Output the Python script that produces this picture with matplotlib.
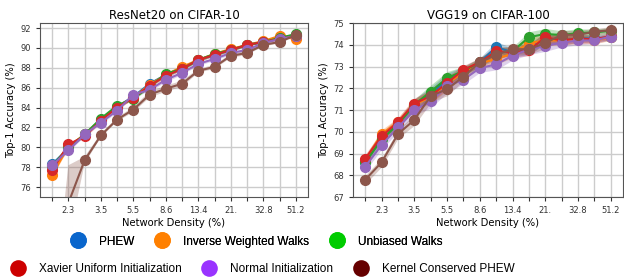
import matplotlib
matplotlib.use("Agg")
import matplotlib.pyplot as plt
from matplotlib.lines import Line2D
import numpy as np

# --- data ------------------------------------------------------------------
density_labels = ["", "2.3", "", "3.5", "", "5.5", "", "8.6", "", "13.4",
                  "", "21.", "", "32.8", "", "51.2"]

series_names = ["PHEW", "Inverse Weighted Walks", "Unbiased Walks",
                "Xavier Uniform Initialization", "Normal Initialization",
                "Kernel Conserved PHEW"]

# ResNet20 on CIFAR-10
resnet_phew = [78.3, 79.9, 81.3, 82.8, 84.1, 85.1, 86.4, 87.3, 87.9, 88.8, 89.3, 89.8, 90.3, 90.6, 91.0, 91.3]
resnet_inverse = [77.2, 80.1, 81.3, 82.8, 84.1, 85.0, 86.3, 87.3, 88.1, 88.8, 89.4, 89.9, 90.3, 90.7, 91.2, 90.9]
resnet_unbiased = [78.1, 80.0, 81.3, 82.9, 84.2, 84.9, 86.1, 87.4, 87.9, 88.8, 89.4, 89.8, 90.3, 90.6, 91.0, 91.4]
resnet_xavier = [77.7, 80.3, 81.1, 82.7, 84.0, 85.0, 86.2, 87.2, 87.9, 88.8, 89.3, 89.8, 90.3, 90.6, 90.9, 91.2]
resnet_normal = [78.2, 79.7, 81.3, 82.5, 83.7, 85.3, 85.8, 86.8, 87.5, 88.4, 88.9, 89.5, 89.8, 90.5, 90.9, 91.2]
resnet_kernel = [58.0, 74.4, 78.7, 81.2, 82.8, 83.8, 85.3, 85.9, 86.4, 87.7, 88.1, 89.2, 89.5, 90.3, 90.6, 91.3]
resnet_std = [0.2, 0.15, 0.15, 0.15, 0.15, 0.15, 0.15, 0.2, 0.15, 0.15, 0.15, 0.15, 0.1, 0.1, 0.1, 0.1]
resnet_kernel_std = [5.0, 3.8, 0.35, 0.2, 0.2, 0.25, 0.3, 0.3, 0.3, 0.2, 0.2, 0.2, 0.2, 0.15, 0.15, 0.15]

# VGG19 on CIFAR-100
vgg_phew = [68.6, 69.7, 70.35, 71.25, 71.75, 72.4, 72.8, 73.2, 73.9, 73.65, 73.8, 74.3, 74.2, 74.3, 74.3, 74.35]
vgg_inverse = [68.7, 69.9, 70.45, 71.25, 71.6, 72.2, 72.75, 73.15, 73.35, 73.6, 74.08, 74.2, 74.2, 74.25, 74.2, 74.35]
vgg_unbiased = [68.6, 69.65, 70.35, 71.25, 71.85, 72.47, 72.8, 73.2, 73.65, 73.7, 74.35, 74.5, 74.45, 74.54, 74.57, 74.65]
vgg_xavier = [68.77, 69.8, 70.45, 71.3, 71.65, 72.25, 72.85, 73.2, 73.7, 73.65, 73.74, 74.35, 74.2, 74.3, 74.25, 74.4]
vgg_normal = [68.4, 69.4, 70.2, 71.0, 71.4, 72.1, 72.4, 72.93, 73.1, 73.5, 73.8, 73.95, 74.1, 74.2, 74.2, 74.38]
vgg_kernel = [67.8, 68.6, 69.9, 70.55, 71.65, 71.96, 72.54, 73.2, 73.54, 73.8, 73.8, 74.08, 74.46, 74.46, 74.6, 74.68]
vgg_std = [0.2, 0.2, 0.2, 0.25, 0.3, 0.3, 0.2, 0.2, 0.25, 0.2, 0.25, 0.25, 0.2, 0.2, 0.15, 0.15]

# --- style -----------------------------------------------------------------
LINE_COLORS = ["#1f77b4", "#ff7f0e", "#2ca02c", "#d62728", "#9467bd", "#8c564b"]
LEGEND_COLORS = ["#0a66cc", "#ff8000", "#00cc00", "#cc0000", "#9933ff", "#660000"]
GRID = "#cccccc"
SPINE = "#555555"

plt.rcParams["font.family"] = ["DejaVu Sans"]


def draw_panel(ax, means, stds, title, yticks, ylim):
    x = np.arange(len(density_labels))
    for m, s, c in zip(means, stds, LINE_COLORS):
        m = np.array(m)
        s = np.array(s)
        ax.fill_between(x, m - s, m + s, color=c, alpha=0.3, linewidth=0)
        ax.plot(x, m, color=c, linewidth=1.5, marker="o", markersize=7)
    ax.set_xticks(x, density_labels)
    ax.set_xlim(-0.75, len(x) - 0.25)
    ax.set_yticks(yticks)
    ax.set_ylim(*ylim)
    ax.grid(True, color=GRID, linewidth=1)
    ax.set_axisbelow(True)
    ax.tick_params(labelsize=6, length=3, colors="#333333")
    for sp in ax.spines.values():
        sp.set_color(SPINE)
    ax.set_title(title, fontsize=8.5, pad=3)
    ax.set_xlabel("Network Density (%)", fontsize=7.2, labelpad=2)
    ax.set_ylabel("Top-1 Accuracy (%)", fontsize=7.2, labelpad=3)


fig = plt.figure(figsize=(6.24, 2.78), dpi=100)
ax1 = fig.add_axes([0.064, 0.291, 0.4295, 0.626])
ax2 = fig.add_axes([0.5657, 0.291, 0.4327, 0.626])

draw_panel(ax1,
           [resnet_phew, resnet_inverse, resnet_unbiased, resnet_xavier, resnet_normal, resnet_kernel],
           [resnet_std] * 5 + [resnet_kernel_std],
           "ResNet20 on CIFAR-10", np.arange(76, 93, 2), (75, 92.5))
draw_panel(ax2,
           [vgg_phew, vgg_inverse, vgg_unbiased, vgg_xavier, vgg_normal, vgg_kernel],
           [vgg_std] * 6,
           "VGG19 on CIFAR-100", np.arange(67, 76, 1), (67, 75))

handles = [Line2D([], [], linestyle="", marker="o", markersize=12,
                  color=c, markeredgewidth=0) for c in LEGEND_COLORS]
legend_kw = dict(ncol=3, frameon=False, loc="center", handlelength=1.0,
                 handletextpad=1.28, columnspacing=1.87, borderpad=0,
                 prop={"family": "Liberation Sans", "size": 8.5})
leg1 = fig.legend(handles[:3], series_names[:3], bbox_to_anchor=(0.412, 0.131), **legend_kw)
fig.add_artist(leg1)
fig.legend(handles[3:], series_names[3:], bbox_to_anchor=(0.422, 0.031), **legend_kw)

fig.savefig("out.png", dpi=100, facecolor="white")
